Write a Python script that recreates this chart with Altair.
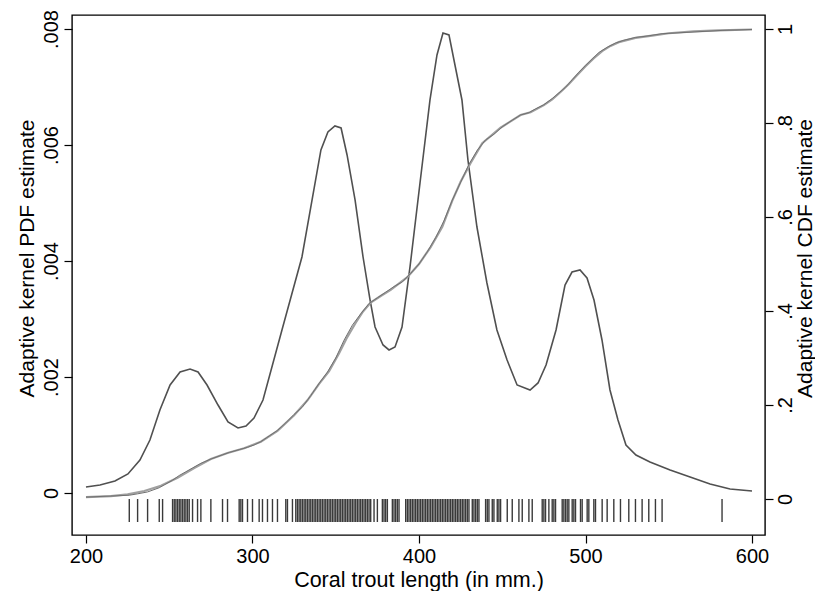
import altair as alt
import pandas as pd

# Adaptive kernel PDF estimate (length in mm, density)
pdf_x = [200.0, 208.4, 217.4, 225.2, 232.4, 238.4, 244.4, 250.5, 256.5, 262.5, 267.3, 272.7,
         279.3, 285.3, 291.3, 296.1, 300.9, 306.3, 317.7, 329.7, 341.1, 345.3, 349.5, 353.2,
         356.8, 361.6, 366.4, 370.6, 373.6, 378.4, 382.0, 385.6, 389.8, 394.6, 400.6, 406.6,
         410.8, 414.4, 418.0, 421.6, 425.8, 429.4, 434.8, 440.8, 446.8, 452.9, 458.9, 466.7,
         471.5, 476.3, 482.3, 487.7, 491.9, 496.7, 500.9, 505.1, 509.9, 514.7, 519.5, 524.3,
         530.3, 538.7, 550.8, 562.8, 574.8, 586.8, 600.0]
pdf_y = [0.000103, 0.000138, 0.000207, 0.000328, 0.000569, 0.000914, 0.001431, 0.001862,
         0.002086, 0.002138, 0.002086, 0.001862, 0.001517, 0.001224, 0.001121, 0.001155,
         0.001293, 0.001603, 0.002810, 0.004069, 0.005914, 0.006224, 0.006328, 0.006293,
         0.005828, 0.005052, 0.004069, 0.003328, 0.002862, 0.002552, 0.002466, 0.002517,
         0.002862, 0.003897, 0.005345, 0.006776, 0.007552, 0.007931, 0.007897, 0.007379,
         0.006776, 0.005741, 0.004586, 0.003621, 0.002810, 0.002293, 0.001862, 0.001776,
         0.001897, 0.002207, 0.002810, 0.003586, 0.003810, 0.003845, 0.003707, 0.003328,
         0.002638, 0.001776, 0.001259, 0.000828, 0.000655, 0.000534, 0.000397, 0.000276,
         0.000155, 0.000069, 0.000034]

# Smooth adaptive kernel CDF estimate
cdf_x = [200, 215, 225, 235, 245, 255, 265, 275, 285, 295, 305, 315, 325, 333, 340, 346,
         352, 357, 362, 366, 371, 377, 383, 393, 400, 407, 414, 420, 425, 431, 438, 449,
         461, 467, 475, 480, 485, 490, 495, 500, 505, 510, 515, 520, 530, 540, 550, 565,
         580, 600]
cdf_y = [0.004, 0.006, 0.010, 0.017, 0.028, 0.045, 0.066, 0.085, 0.098, 0.108, 0.122, 0.145,
         0.178, 0.210, 0.245, 0.272, 0.310, 0.345, 0.375, 0.397, 0.418, 0.432, 0.445, 0.472,
         0.500, 0.536, 0.579, 0.635, 0.675, 0.715, 0.757, 0.790, 0.817, 0.823, 0.838, 0.850,
         0.866, 0.883, 0.902, 0.921, 0.938, 0.953, 0.964, 0.972, 0.981, 0.986, 0.991, 0.995,
         0.997, 0.999]

ecdf_x = [200, 226, 231, 237, 244, 247, 252, 256, 260, 264, 269, 275, 282, 286, 292, 297,
          301, 305, 310, 315, 320, 325, 330, 335, 340, 345, 350, 355, 360, 365, 370, 375,
          380, 385, 390, 395, 400, 405, 410, 415, 420, 425, 430, 435, 440, 445, 450, 456,
          461, 466, 470, 475, 480, 484, 488, 492, 496, 500, 504, 508, 513, 518, 523, 530,
          537, 546, 582, 600]
ecdf_y = [0.004, 0.008, 0.011, 0.015, 0.024, 0.030, 0.040, 0.050, 0.058, 0.066, 0.076, 0.085,
          0.094, 0.099, 0.105, 0.110, 0.115, 0.122, 0.134, 0.146, 0.162, 0.180, 0.196, 0.220,
          0.246, 0.270, 0.300, 0.338, 0.370, 0.394, 0.416, 0.428, 0.440, 0.452, 0.462, 0.480,
          0.500, 0.526, 0.556, 0.592, 0.636, 0.674, 0.712, 0.742, 0.764, 0.776, 0.792, 0.806,
          0.817, 0.822, 0.830, 0.839, 0.852, 0.864, 0.876, 0.892, 0.908, 0.922, 0.936, 0.950,
          0.961, 0.970, 0.976, 0.982, 0.985, 0.990, 0.997, 0.999]

# Observations (rug)
rug = ([226, 231, 237, 244, 246] + list(range(252, 263)) +
       [264, 267, 269, 275, 282, 285, 292, 293, 294, 297, 300, 304, 306, 309, 312, 315,
        320, 321, 324] + list(range(326, 372)) + [373, 375, 378, 379, 380, 381] +
       list(range(384, 389)) + list(range(392, 426)) + list(range(426, 431)) +
       list(range(432, 437)) + [440, 441, 442, 444, 445, 447, 448, 449, 453, 456, 460, 462,
        466, 468, 474, 475, 476, 478, 480, 481, 482, 486, 487, 488, 489, 490, 492, 493, 494,
        497, 498, 501, 502, 505, 506, 510, 513, 517, 521, 526, 530, 534, 538, 542, 546, 582])

pdf_df = pd.DataFrame({"length": pdf_x, "density": pdf_y})
cdf_df = pd.DataFrame({"length": cdf_x, "cdf": cdf_y})
ecdf_df = pd.DataFrame({"length": ecdf_x, "cdf": ecdf_y})
rug_df = pd.DataFrame({"length": rug})

FONT = "Liberation Sans"
LFS = 20
XTFS = 21.5
YTFS = 21

common = dict(labelFontSize=LFS, tickSize=8, grid=False, domain=False,
              labelFont=FONT, titleFont=FONT, labelColor="black", titleColor="black",
              tickColor="black", tickWidth=1.2, titleFontWeight="normal")

xscale = alt.Scale(domain=[191.6, 607.8], nice=False, zero=False)
xaxis = alt.Axis(values=[200, 300, 400, 500, 600], title="Coral trout length (in mm.)",
                 labelPadding=3, titleFontSize=XTFS, titleY=45, titleBaseline="middle",
                 **common)

lscale = alt.Scale(domain=[-0.000724, 0.008241], nice=False, zero=False)
laxis = alt.Axis(values=[0, 0.002, 0.004, 0.006, 0.008], title="Adaptive kernel PDF estimate",
                 labelExpr="datum.value == 0 ? '0' : replace(format(datum.value, '.3f'), '0.', '.')",
                 labelAngle=270, labelAlign="center", labelBaseline="bottom",
                 labelPadding=3, titleFontSize=YTFS, titleAngle=270, titleX=-45, titleY=243,
                 titleBaseline="middle", titleAlign="center", orient="left", **common)

rscale = alt.Scale(domain=[-0.0766, 1.0298], nice=False, zero=False)
raxis = alt.Axis(values=[0, 0.2, 0.4, 0.6, 0.8, 1.0], title="Adaptive kernel CDF estimate",
                 labelExpr="datum.value == 0 ? '0' : datum.value == 1 ? '1' : replace(format(datum.value, '.1f'), '0.', '.')",
                 labelAngle=270, labelAlign="center", labelBaseline="top",
                 labelPadding=2, titleFontSize=YTFS, titleAngle=270, titleX=40, titleY=243,
                 titleBaseline="middle", titleAlign="center", orient="right", **common)

X = alt.X("length:Q", scale=xscale, axis=xaxis)

pdf_line = alt.Chart(pdf_df).mark_line(color="#505050", strokeWidth=1.6).encode(
    x=X,
    y=alt.Y("density:Q", scale=lscale, axis=laxis),
)

rug_marks = alt.Chart(rug_df).mark_rule(color="#3a3a3a", strokeWidth=1.4).encode(
    x=X,
    y=alt.datum(-0.000103),
    y2=alt.datum(-0.0005),
)

cdf_line = alt.Chart(cdf_df).mark_line(color="#a0a0a0", strokeWidth=2.2).encode(
    x=X,
    y=alt.Y("cdf:Q", scale=rscale, axis=raxis),
)

ecdf_line = alt.Chart(ecdf_df).mark_line(color="#707070", strokeWidth=1).encode(
    x=X,
    y=alt.Y("cdf:Q", scale=rscale, axis=raxis),
)

left = alt.layer(pdf_line, rug_marks)
right = alt.layer(cdf_line, ecdf_line)

chart = alt.layer(left, right).resolve_scale(y="independent").properties(
    width=693, height=520,
    autosize=alt.AutoSizeParams(type="none"),
    padding={"left": 64, "top": 7, "right": 50, "bottom": 56},
    background="white",
).configure_view(stroke="black", strokeWidth=1.4)

chart.save("out.html", embed_options={"renderer": "svg", "actions": False})
